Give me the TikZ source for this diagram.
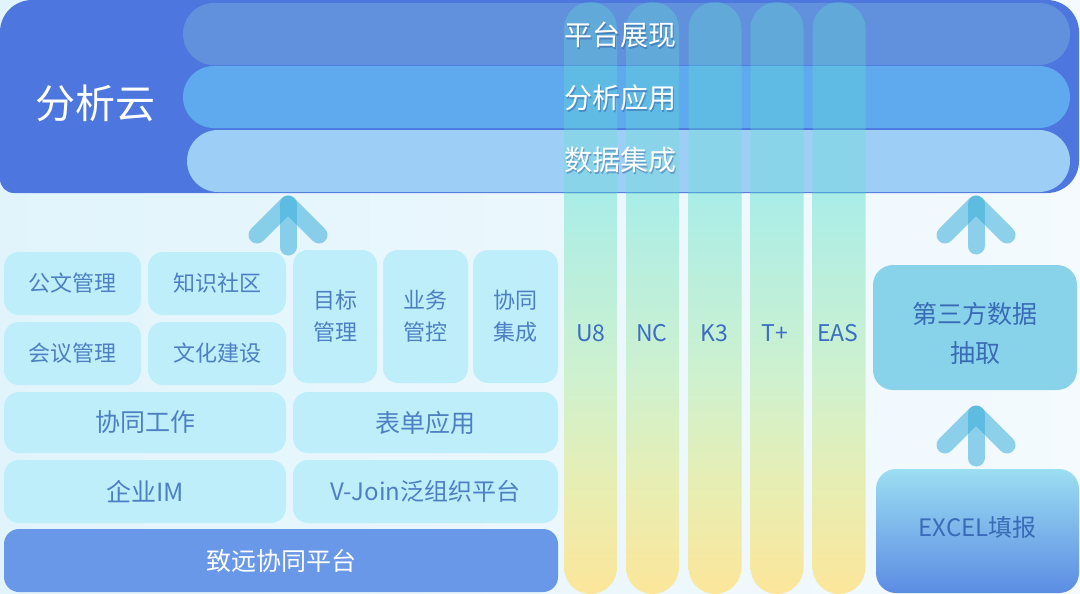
\documentclass[tikz,border=0pt]{standalone}
\usepackage{fontspec}
\setmainfont{Noto Sans CJK SC}
\definecolor{bgL}{HTML}{E1F4FC}
\definecolor{bgR}{HTML}{F4FAFE}
\definecolor{bigc}{HTML}{4D77DE}
\definecolor{bar1c}{HTML}{6191DC}
\definecolor{bar2c}{HTML}{5FA9EE}
\definecolor{bar3c}{HTML}{9DCEF5}
\definecolor{blkfill}{HTML}{BEEEFA}
\definecolor{blktext}{HTML}{4D7FC3}
\definecolor{zyfill}{HTML}{6A98E8}
\definecolor{tpfill}{HTML}{88D3EA}
\definecolor{rttext}{HTML}{3A6BB6}
\definecolor{coltext}{HTML}{3B6EC2}
\definecolor{arrowc}{HTML}{3AAEDB}
\definecolor{colover}{HTML}{5FE3D0}
\definecolor{shadowc}{HTML}{1E3A8A}
\definecolor{colY}{HTML}{FCE69A}
\definecolor{colYG}{HTML}{E8EEB2}
\definecolor{colG}{HTML}{CFF1CE}
\definecolor{colC}{HTML}{A9EDE8}
\definecolor{colT}{HTML}{8FE5EE}
\definecolor{exT}{HTML}{9CDEF2}
\definecolor{exB}{HTML}{5B8CE3}
\pgfdeclareverticalshading{colshade}{100bp}{color(0bp)=(colY); color(25bp)=(colY); color(34bp)=(colYG); color(43bp)=(colG); color(59bp)=(colC); color(75bp)=(colT); color(100bp)=(colT)}
\begin{document}
\begin{tikzpicture}[x=1pt,y=-1pt,
  blk/.style={rectangle, rounded corners=15pt, fill=blkfill, text=blktext, inner sep=0pt, align=center, font=\fontsize{22pt}{32pt}\selectfont},
  colbox/.style={rectangle, rounded corners=26.5pt, minimum width=53pt, minimum height=592pt, inner sep=0pt, shading=colshade},
  collab/.style={text=coltext, font=\fontsize{23pt}{26pt}\selectfont, inner sep=0pt},
  barbox/.style={rectangle, rounded corners=31pt, minimum width=887pt, minimum height=62pt, inner sep=0pt},
  bartxt/.style={text=white, font=\fontsize{28pt}{32pt}\selectfont, inner sep=0pt},
  bartsh/.style={text=shadowc, text opacity=0.35, font=\fontsize{28pt}{32pt}\selectfont, inner sep=0pt},
  arrstroke/.style={line width=17pt, line cap=round, line join=round, draw=arrowc, draw opacity=0.55},
  uparr/.pic={
    \draw[arrstroke] (-31,31) -- (0,0) -- (31,31);
    \draw[arrstroke] (0,0) -- (0,#1);
  }
]
\useasboundingbox (0,0) rectangle (1080,594);
% background
\shade[left color=bgL, right color=bgR] (0,0) rectangle (1080,594);

% columns (full, opaque)
\node[colbox] (c1) at (590.5,298) {};
\node[colbox] (c2) at (652.5,298) {};
\node[colbox] (c3) at (715,298) {};
\node[colbox] (c4) at (777,298) {};
\node[colbox] (c5) at (839,298) {};

% big analysis cloud box
\fill[bigc] [rounded corners=14pt] (0,100) -- (0,193) -- (100,193) [rounded corners=32pt] -- (1079,193) -- (1079,0) -- (0,0) -- cycle;

% bars
\node[barbox, fill=bar1c] (b1) at (626.5,34) {};
\node[barbox, fill=bar2c] (b2) at (626.5,97) {};
\node[barbox, fill=bar3c, minimum width=883pt] (b3) at (628.5,161) {};

% translucent columns over the top box
\begin{scope}
  \clip (0,0) rectangle (1080,193);
  \foreach \cx in {590.5,652.5,715,777,839}
    \fill[colover, opacity=0.3, rounded corners=26.5pt] (\cx-26.5,2) rectangle (\cx+26.5,594);
\end{scope}

% top texts
\node[text=white, font=\fontsize{40pt}{44pt}\selectfont, inner sep=0pt] (fxy) at (95,103) {分析云};
\node[bartsh] at (621.5,37) {平台展现};
\node[bartxt] (t1) at (620,35) {平台展现};
\node[bartsh] at (621.5,100) {分析应用};
\node[bartxt] (t2) at (620,98) {分析应用};
\node[bartsh] at (621.5,162) {数据集成};
\node[bartxt] (t3) at (620,160) {数据集成};

% column labels
\node[collab] (l1) at (591,333) {U8};
\node[collab] (l2) at (652,333) {NC};
\node[collab] (l3) at (714,333) {K3};
\node[collab] (l4) at (775,333) {T+};
\node[collab] (l5) at (838,333) {EAS};

% left blocks
\node[blk, minimum width=137pt, minimum height=63pt] (gw) at (72.5,283.5) {公文管理};
\node[blk, minimum width=138pt, minimum height=63pt] (zs) at (217,283.5) {知识社区};
\node[blk, minimum width=137pt, minimum height=63pt] (hy) at (72.5,353.5) {会议管理};
\node[blk, minimum width=138pt, minimum height=63pt] (wh) at (217,353.5) {文化建设};
\node[blk, minimum width=84pt, minimum height=133pt] (mb) at (335,316.5) {目标\\管理};
\node[blk, minimum width=85pt, minimum height=133pt] (yw) at (425.5,316.5) {业务\\管控};
\node[blk, minimum width=85pt, minimum height=133pt] (xt) at (515.5,316.5) {协同\\集成};
\node[blk, minimum width=282pt, minimum height=61pt, font=\fontsize{25pt}{28pt}\selectfont] (xg) at (145,422.5) {协同工作};
\node[blk, minimum width=265pt, minimum height=61pt, font=\fontsize{25pt}{28pt}\selectfont] (bd) at (425.5,422.5) {表单应用};
\node[blk, minimum width=282pt, minimum height=63pt, font=\fontsize{25pt}{28pt}\selectfont] (im) at (145,491.5) {企业IM};
\node[blk, minimum width=265pt, minimum height=63pt, font=\fontsize{24pt}{28pt}\selectfont] (vj) at (425.5,491.5) {V-Join泛组织平台};
\node[blk, fill=zyfill, text=white, minimum width=554pt, minimum height=63pt, font=\fontsize{25pt}{28pt}\selectfont] (zy) at (281,560.5) {致远协同平台};

% right boxes
\node[rectangle, rounded corners=20pt, fill=tpfill, inner sep=0pt, minimum width=204pt, minimum height=125pt] (tp) at (975,327.5) {};
\node[text=rttext, inner sep=0pt, align=center, font=\fontsize{25pt}{39pt}\selectfont] (tpt) at (975,333) {第三方数据\\抽取};
\node[rectangle, rounded corners=20pt, top color=exT, bottom color=exB, inner sep=0pt, minimum width=203pt, minimum height=124pt] (ex) at (977.5,531) {};
\node[text=rttext, inner sep=0pt, font=\fontsize{24pt}{28pt}\selectfont] (ext) at (977.5,527) {EXCEL填报};

% arrows
\pic (a1) at (288,204) {uparr=43};
\pic (a2) at (976,204) {uparr=42};
\pic (a3) at (976,414) {uparr=44};
\end{tikzpicture}
\end{document}
